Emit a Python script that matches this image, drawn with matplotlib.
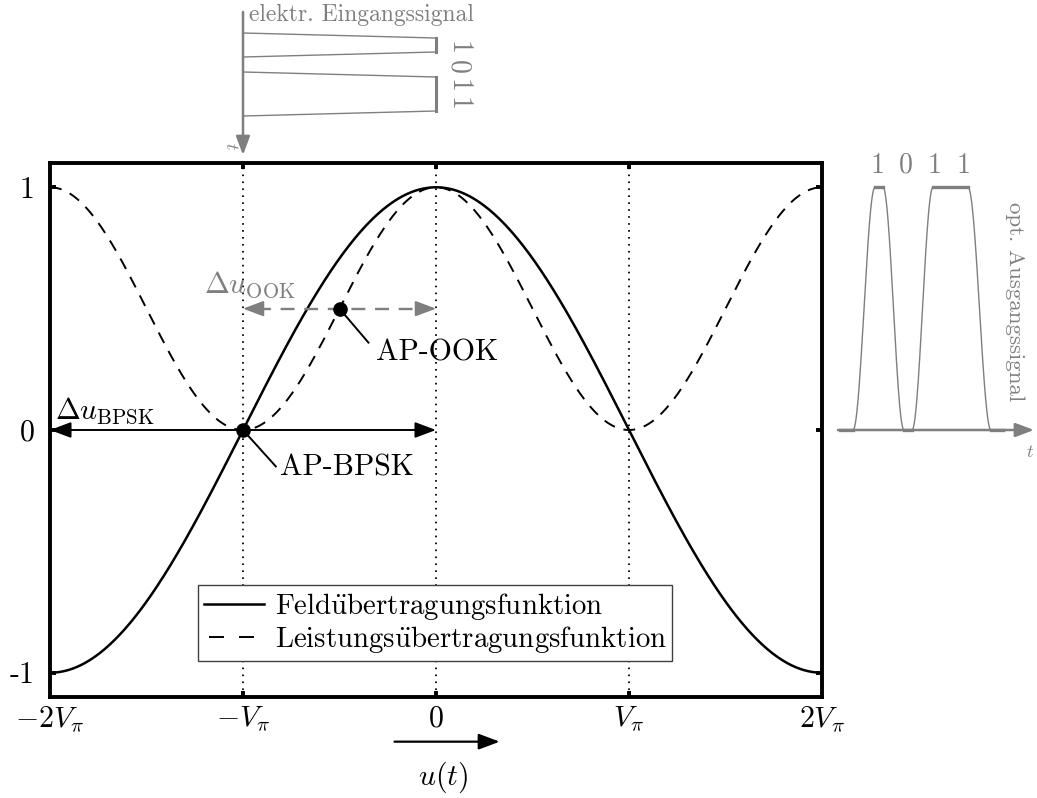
import numpy as np
import matplotlib.pyplot as plt
from matplotlib.lines import Line2D

plt.rcParams['mathtext.fontset'] = 'cm'
plt.rcParams['font.family'] = 'cmr10'
plt.rcParams['axes.unicode_minus'] = False
plt.rcParams['lines.scale_dashes'] = False

GRAY = '#7f7f7f'
FS = 21.5

# bias axis in units of V_pi
x_ticks = [-2, -1, 0, 1, 2]
x_tick_labels = [r'$-2V_\pi$', r'$-V_\pi$', r'$0$', r'$V_\pi$', r'$2V_\pi$']
y_ticks = [-1, 0, 1]
y_tick_labels = ['-1', '0', '1']
guide_lines = [-1, 0, 1]

# working points
ap_bpsk = (-1.0, 0.0)
ap_ook = (-0.5, 0.5)

# electrical input (top): time in px-like units, drive in V_pi
t_in = [33, 38, 52, 57, 72, 77, 111, 116]
u_in = [-1, 0, 0, -1, -1, 0, 0, -1]
t_in_bits = [48, 67, 86, 104]
bits = ['1', '0', '1', '1']

# optical output (right): drive nodes of the trapezoid pulses
t_out = [2, 15, 37, 45, 66, 74, 95, 130, 153, 165]
u_out = [-1, -1, 0, 0, -1, -1, 0, 0, -1, -1]
t_out_bits = [40, 68, 97, 126]


def field(u):
    return np.cos(np.pi * u / 2)


def power(u):
    return np.cos(np.pi * u / 2) ** 2


fig = plt.figure(figsize=(10.37, 7.98), dpi=100)
W, H = 1037, 798
ax = fig.add_axes([50 / W, 1 - 697 / H, 772 / W, 534 / H])

u = np.linspace(-2, 2, 801)
ax.plot(u, field(u), color='black', lw=1.8)
ax.plot(u, power(u), color='black', lw=1.4, dashes=(8.5, 6.5))
for g in guide_lines:
    ax.axvline(g, color='black', lw=1.3, linestyle=(0, (1.2, 3.8)))

ax.set_xlim(-2, 2)
ax.set_ylim(-1.1, 1.1)
ax.set_xticks(x_ticks[1:-1])
ax.set_xticklabels([])
ax.set_yticks(y_ticks)
ax.set_yticklabels(y_tick_labels, fontsize=FS)
ax.tick_params(direction='in', length=4.5, width=2.8, top=True, right=True,
               pad=11)
for s in ax.spines.values():
    s.set_linewidth(2.8)
for xt, lab in zip(x_ticks, x_tick_labels):
    ax.text(xt, -1.19, lab, fontsize=FS, ha='center', va='center',
            clip_on=False)

# BPSK swing
ax.annotate('', xy=(0, 0), xytext=(-2, 0),
            arrowprops=dict(arrowstyle='<|-|>,head_length=0.8,head_width=0.3',
                            mutation_scale=16, color='black', lw=1.4,
                            shrinkA=0, shrinkB=0))
ax.text(-1.975, 0.08, r'$\Delta u_{\mathrm{BPSK}}$', fontsize=FS,
        ha='left', va='center')

# OOK swing
ax.plot([-0.93, -0.07], [0.5, 0.5], color=GRAY, lw=1.7, dashes=(10, 7))
for a, b in [(-1, -0.92), (0, -0.08)]:
    ax.annotate('', xy=(a, 0.5), xytext=(b, 0.5),
                arrowprops=dict(arrowstyle='-|>,head_length=0.8,head_width=0.3',
                                mutation_scale=16, color=GRAY, lw=1.3,
                                shrinkA=0, shrinkB=0))
ax.text(-1.2, 0.6, r'$\Delta u_{\mathrm{OOK}}$', fontsize=FS, color=GRAY,
        ha='left', va='center')

# working points
for (px, py), (lx, ly), (tx, ty), lab in [
        (ap_bpsk, (-0.83, -0.15), (-0.81, -0.155), 'AP-BPSK'),
        (ap_ook, (-0.35, 0.36), (-0.31, 0.32), 'AP-OOK')]:
    ax.plot([px, lx], [py, ly], color='black', lw=1.4)
    ax.plot(px, py, 'o', color='black', ms=9.5)
    ax.text(tx, ty, lab, fontsize=FS, ha='left', va='center')

# legend
handles = [Line2D([], [], color='black', lw=1.8),
           Line2D([], [], color='black', lw=1.4, linestyle=(18, (10.8, 10.8)))]
labels = ['Feld' + r'$\ddot{\mathrm{u}}$' + 'bertragungsfunktion',
          'Leistungs' + r'$\ddot{\mathrm{u}}$' + 'bertragungsfunktion']
leg = ax.legend(handles, labels, loc='upper left',
                bbox_to_anchor=((198 - 50) / 772, (697 - 585) / 534),
                borderaxespad=0, fontsize=20.8, handlelength=2.1,
                handletextpad=0.35, borderpad=0.2, labelspacing=0.08,
                fancybox=False, framealpha=1)
leg.get_frame().set_edgecolor('#404040')
leg.get_frame().set_linewidth(1.0)

# u(t) arrow under the axis
ax.annotate('', xy=(0.33, -1.284), xytext=(-0.215, -1.284),
            annotation_clip=False,
            arrowprops=dict(arrowstyle='-|>,head_length=0.8,head_width=0.3',
                            mutation_scale=16, color='black', lw=1.6,
                            shrinkA=0, shrinkB=0))
ax.text(0.035, -1.43, r'$u(t)$', fontsize=FS, ha='center', va='center',
        clip_on=False)

# top inset: electrical drive signal, time running downwards
ax_in = fig.add_axes([50 / W, 1 - 163 / H, 772 / W, 163 / H])
ax_in.set_xlim(-2, 2)
ax_in.set_ylim(163, 0)
ax_in.axis('off')
ax_in.annotate('', xy=(-1, 155), xytext=(-1, 12),
               arrowprops=dict(arrowstyle='-|>,head_length=0.8,head_width=0.3',
                               mutation_scale=14, color=GRAY, lw=1.8,
                               shrinkA=0, shrinkB=0))
ax_in.plot(u_in, t_in, color=GRAY, lw=1.0)
for i in range(len(t_in) - 1):
    if u_in[i] == 0 and u_in[i + 1] == 0:
        ax_in.plot(u_in[i:i + 2], t_in[i:i + 2], color=GRAY, lw=2.2)
ax_in.text(-0.97, 15, 'elektr. Eingangssignal', fontsize=17, color=GRAY,
           ha='left', va='center')
ax_in.text(-1.06, 146, r'$t$', fontsize=13, color=GRAY, rotation=270,
           ha='center', va='center')
for tb, b in zip(t_in_bits, bits):
    ax_in.text(0.11, tb, b, fontsize=20, color=GRAY, rotation=270,
               ha='center', va='center')

# right inset: optical output signal
ax_out = fig.add_axes([838 / W, 1 - 697 / H, 199 / W, 534 / H])
ax_out.set_xlim(0, 199)
ax_out.set_ylim(-1.1, 1.1)
ax_out.axis('off')
ax_out.annotate('', xy=(196, 0), xytext=(0, 0),
                arrowprops=dict(arrowstyle='-|>,head_length=0.8,head_width=0.3',
                                mutation_scale=14, color=GRAY, lw=1.8,
                                shrinkA=0, shrinkB=0))
tt = np.linspace(t_out[0], t_out[-1], 600)
drive = np.interp(tt, t_out, u_out)
ax_out.plot(tt, power(drive), color=GRAY, lw=1.0)
for i in range(len(t_out) - 1):
    if u_out[i] == u_out[i + 1]:
        ax_out.plot(t_out[i:i + 2], power(np.array(u_out[i:i + 2])),
                    color=GRAY, lw=2.4)
for tb, b in zip(t_out_bits, bits):
    ax_out.text(tb, 1.09, b, fontsize=20, color=GRAY, ha='center',
                va='center')
ax_out.text(192, -0.09, r'$t$', fontsize=13, color=GRAY, ha='center',
            va='center')
ax_out.text(177, 0.53, 'opt. Ausgangssignal', fontsize=16.5, color=GRAY,
            rotation=270, ha='center', va='center')

fig.savefig('out.png', dpi=100)
